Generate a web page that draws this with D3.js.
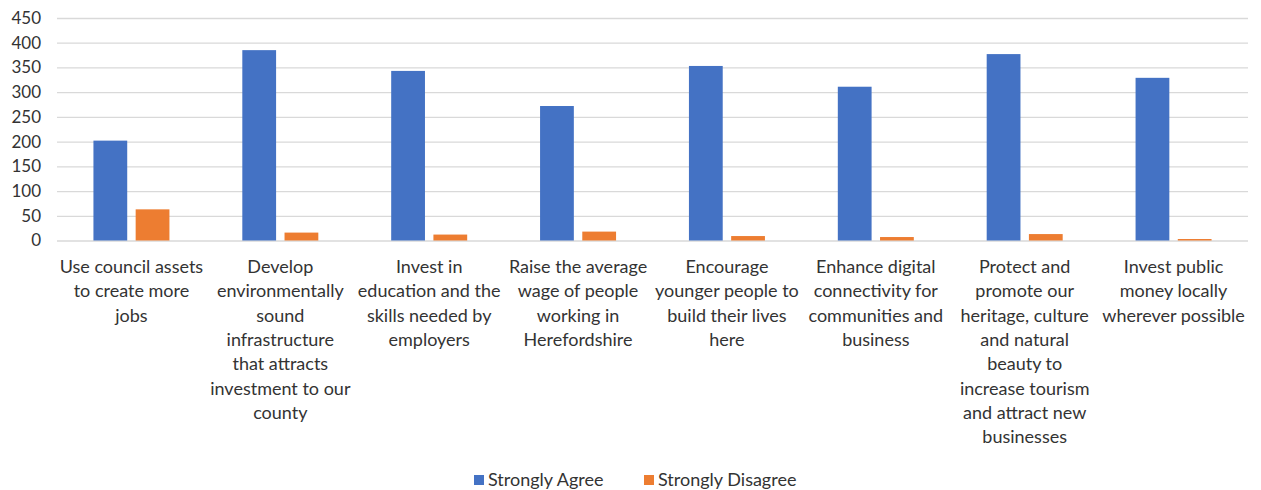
<!DOCTYPE html>
<html>
<head>
<meta charset="utf-8">
<script src="https://cdn.jsdelivr.net/npm/d3@7"></script>
<style>
  html, body { margin: 0; padding: 0; background: #fff; }
  svg { display: block; }
  text { font-family: Lato, "Open Sans", sans-serif; fill: #333333; }
</style>
</head>
<body>
<svg id="chart" width="1261" height="490"></svg>
<script>
const categories = [
  ["Use council assets", "to create more", "jobs"],
  ["Develop", "environmentally", "sound", "infrastructure", "that attracts", "investment to our", "county"],
  ["Invest in", "education and the", "skills needed by", "employers"],
  ["Raise the average", "wage of people", "working in", "Herefordshire"],
  ["Encourage", "younger people to", "build their lives", "here"],
  ["Enhance digital", "connectivity for", "communities and", "business"],
  ["Protect and", "promote our", "heritage, culture", "and natural", "beauty to", "increase tourism", "and attract new", "businesses"],
  ["Invest public", "money locally", "wherever possible"]
];
const seriesNames = ["Strongly Agree", "Strongly Disagree"];
const stronglyAgree = [202, 385, 343, 272, 353, 311, 377, 329];
const stronglyDisagree = [63, 16, 12, 18, 9, 7, 13, 3];
const yTicks = [0, 50, 100, 150, 200, 250, 300, 350, 400, 450];
const colors = ["#4472C4", "#ED7D31"];

const svg = d3.select("#chart");
const mLeft = 57, mRight = 1248, mTop = 18, mBottom = 240.5;
const idx = d3.range(categories.length);

const x0 = d3.scaleBand().domain(idx).range([mLeft, mRight]).padding(0);
const groupW = 76;
const x1 = d3.scaleBand().domain([0, 1])
  .range([(x0.bandwidth() - groupW) / 2, (x0.bandwidth() + groupW) / 2])
  .paddingInner(0.2).paddingOuter(0);
const y = d3.scaleLinear().domain([0, 450]).range([mBottom, mTop]);

// gridlines
svg.append("g")
  .attr("transform", `translate(${mLeft},0)`)
  .call(d3.axisLeft(y).tickValues(yTicks).tickSize(-(mRight - mLeft)).tickFormat(""))
  .call(g => g.select(".domain").remove())
  .call(g => g.selectAll("line").attr("stroke", "#d9d9d9").attr("stroke-width", 1.3));

// y labels
svg.append("g")
  .attr("transform", `translate(41,0)`)
  .call(d3.axisLeft(y).tickValues(yTicks).tickSize(0).tickPadding(0))
  .call(g => g.select(".domain").remove())
  .call(g => g.selectAll("text")
    .attr("font-family", "Lato, sans-serif")
    .attr("font-size", 17)
    .attr("fill", "#333333"));

const series = [stronglyAgree, stronglyDisagree];
const groups = svg.append("g").selectAll("g")
  .data(idx).join("g")
  .attr("transform", i => `translate(${x0(i)},0)`);

groups.selectAll("rect")
  .data(i => series.map((s, k) => ({ k, v: s[i] })))
  .join("rect")
  .attr("x", d => x1(d.k))
  .attr("width", x1.bandwidth())
  .attr("y", d => y(d.v))
  .attr("height", d => y(0) - y(d.v))
  .attr("fill", d => colors[d.k]);

// category labels
const labels = svg.append("g").selectAll("text")
  .data(idx).join("text")
  .attr("text-anchor", "middle")
  .attr("font-size", 18)
  .attr("x", i => x0(i) + x0.bandwidth() / 2)
  .attr("y", 273);
labels.selectAll("tspan")
  .data(i => categories[i].map(l => ({ l, x: x0(i) + x0.bandwidth() / 2 })))
  .join("tspan")
  .attr("x", d => d.x)
  .attr("dy", (d, j) => j === 0 ? 0 : 24.3)
  .text(d => d.l);

// legend
const legendItems = [
  { name: seriesNames[0], color: colors[0], x: 474 },
  { name: seriesNames[1], color: colors[1], x: 644 }
];
const lg = svg.append("g").selectAll("g").data(legendItems).join("g")
  .attr("transform", d => `translate(${d.x},0)`);
lg.append("rect").attr("x", 0).attr("y", 475).attr("width", 10).attr("height", 10).attr("fill", d => d.color);
lg.append("text").attr("x", 14).attr("y", 486).attr("font-size", 18).text(d => d.name);
</script>
</body>
</html>
